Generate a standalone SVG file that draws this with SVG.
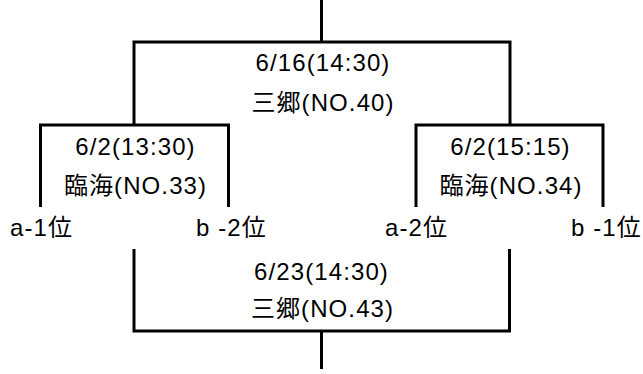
<svg xmlns="http://www.w3.org/2000/svg" width="643" height="374" viewBox="0 0 643 374">
<style>
.ln{fill:none;stroke:#000;stroke-width:3;stroke-linejoin:miter;stroke-linecap:butt}
text{font-family:"Liberation Sans","Noto Sans CJK JP",sans-serif;font-size:24px;fill:#000;text-anchor:middle;letter-spacing:1.1px}
</style>
<rect width="643" height="374" fill="#fff"/>
<g id="connectors">
<path class="ln" d="M321.5,0 V42"/>
<path class="ln" d="M134,125 V42 H510 V125"/>
<path class="ln" d="M40.5,207 V125 H228.5 V207"/>
<path class="ln" d="M416,207 V125 H603 V207"/>
<path class="ln" d="M134,249 V331 H509.5 V249"/>
<path class="ln" d="M321.5,331 V369"/>
</g>
<g id="match-40">
<text x="323" y="71">6/16(14:30)</text>
<text x="323" y="111">三郷(NO.40)</text>
</g>
<g id="match-33">
<text x="135.5" y="155">6/2(13:30)</text>
<text x="135.5" y="194">臨海(NO.33)</text>
</g>
<g id="match-34">
<text x="510.5" y="155">6/2(15:15)</text>
<text x="511" y="194">臨海(NO.34)</text>
</g>
<g id="match-43">
<text x="321.5" y="280">6/23(14:30)</text>
<text x="322.5" y="317">三郷(NO.43)</text>
</g>
<g id="team-a1"><text x="41.5" y="236">a-1位</text></g>
<g id="team-b2"><text x="231.5" y="236">b -2位</text></g>
<g id="team-a2"><text x="416.5" y="236">a-2位</text></g>
<g id="team-b1"><text x="606.5" y="236">b -1位</text></g>
</svg>
